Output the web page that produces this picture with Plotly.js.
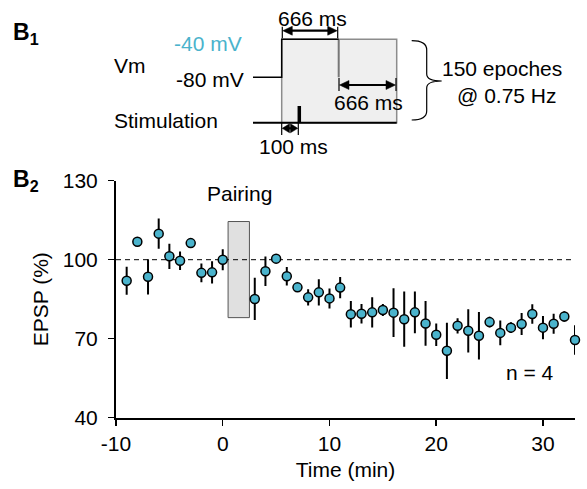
<!DOCTYPE html>
<html>
<head>
<meta charset="utf-8">
<script src="https://cdn.plot.ly/plotly-3.0.1.min.js"></script>
<style>html,body{margin:0;padding:0;background:#fff;}#chart{width:587px;height:489px;}</style>
</head>
<body>
<div id="chart"></div>
<script>
// ---- data ----
const timeMin = [-9,-8,-7,-6,-5,-4,-3,-2,-1,0,3,4,5,6,7,8,9,10,11,12,13,14,15,16,17,18,19,20,21,22,23,24,25,26,27,28,29,30,31,32,33];
const epspPct = [92.0,106.8,93.5,109.9,101.3,99.6,106.3,95.0,95.2,100.0,85.1,95.6,100.4,93.7,89.5,85.7,87.6,85.3,89.4,79.3,79.5,80.0,80.9,79.9,77.4,80.0,75.8,71.5,65.4,74.9,73.0,71.1,76.3,72.2,74.2,75.6,79.4,74.2,75.7,78.4,69.5];
const epspErr = [5.3,1.0,6.7,5.7,4.8,3.5,1.0,3.6,4.2,4.0,8.0,5.6,1.5,3.5,1.5,3.1,5.0,3.8,4.0,5.0,3.7,5.7,2.3,9.3,10.5,7.9,8.5,4.3,10.7,2.9,8.2,9.0,2.0,4.7,2.0,4.2,3.7,4.4,3.8,2.0,5.6];
const pairingWindow = [0.5, 2.5];
const pairingRange = [78, 114.5];
const baselineLevel = 100;
const xTicks = [-10, 0, 10, 20, 30];
const yTicks = [40, 70, 100, 130];

// ---- layout helpers (figure pixels -> paper) ----
const W = 587, H = 489;
const px = x => x / W;
const py = y => 1 - y / H;
const FONT = 'Arial, "Liberation Sans", Helvetica, sans-serif';
const FS = 21;

const trace = {
  x: timeMin, y: epspPct, type: 'scatter', mode: 'markers',
  cliponaxis: false,
  marker: {size: 9, color: '#4ab3cc', line: {color: '#000', width: 1.5}},
  error_y: {type: 'data', array: epspErr, visible: true, color: '#000', thickness: 2, width: 0},
  hoverinfo: 'x+y'
};

const shapes = [];
const annotations = [];

// Pairing box and baseline
shapes.push({type: 'rect', xref: 'x', yref: 'y', x0: pairingWindow[0], x1: pairingWindow[1], y0: pairingRange[0], y1: pairingRange[1],
  fillcolor: '#e0e0e0', line: {color: '#555', width: 1}, layer: 'below'});
shapes.push({type: 'line', xref: 'x', yref: 'y', x0: -10, x1: 33, y0: baselineLevel, y1: baselineLevel,
  line: {color: '#000', width: 1, dash: '5px,4px'}, layer: 'below'});

// ---- schematic (B1) ----
function line(x0, y0, x1, y1, color, width) {
  shapes.push({type: 'line', xref: 'paper', yref: 'paper', x0: px(x0), y0: py(y0), x1: px(x1), y1: py(y1), line: {color: color, width: width}});
}
function pathPx(cmds, color, width, fill) {
  const d = cmds.map(c => c[0] + ' ' + (c.length > 1 ? c.slice(1).map((v, i) => (i % 2 === 0 ? px(v) : py(v)).toFixed(5)).join(',') : '')).join(' ');
  shapes.push({type: 'path', xref: 'paper', yref: 'paper', path: d, line: {color: color, width: width}, fillcolor: fill || 'rgba(0,0,0,0)'});
}
// background box
shapes.push({type: 'rect', xref: 'paper', yref: 'paper', x0: px(281.7), x1: px(396.7), y0: py(122.7), y1: py(39.3),
  fillcolor: '#efefef', line: {color: '#8c8c8c', width: 1.5}});
line(338.7, 39.3, 338.7, 77.3, '#777', 2);
pathPx([['M', 253, 77.3], ['L', 281.7, 77.3], ['L', 281.7, 39.3], ['L', 338.7, 39.3]], '#000', 1.5);
line(253, 122.7, 396.7, 122.7, '#000', 2);
line(299.3, 106, 299.3, 122.7, '#000', 3.5);

function dblArrow(x0, x1, y, barTop, barBot) {
  const hl = Math.min(10, (x1 - x0) / 2 - 0.5), hw = 4.5;
  line(x0, barTop, x0, barBot, '#000', 1.2);
  line(x1, barTop, x1, barBot, '#000', 1.2);
  line(x0 + hl - 1, y, x1 - hl + 1, y, '#000', 2.2);
  pathPx([['M', x0 + 0.5, y], ['L', x0 + hl, y - hw], ['L', x0 + hl, y + hw], ['Z']], '#000', 0.5, '#000');
  pathPx([['M', x1 - 0.5, y], ['L', x1 - hl, y - hw], ['L', x1 - hl, y + hw], ['Z']], '#000', 0.5, '#000');
}
dblArrow(282.3, 337.7, 30.7, 26.7, 38.3);
dblArrow(339, 396, 85, 78, 91);
dblArrow(281.7, 298.3, 128.3, 123, 135);

// brace
pathPx([['M', 411.7, 40.7], ['Q', 426.7, 40.7, 426.7, 50], ['L', 426.7, 74], ['Q', 426.7, 81, 441.7, 81],
        ['Q', 426.7, 81, 426.7, 88], ['L', 426.7, 111], ['Q', 426.7, 120, 411.7, 120]], '#000', 1.2);

function txt(text, x, y, xanchor, opts) {
  annotations.push(Object.assign({xref: 'paper', yref: 'paper', x: px(x), y: py(y), text: text, showarrow: false,
    xanchor: xanchor, yanchor: 'middle', font: {family: FONT, size: FS, color: '#000'}}, opts || {}));
}
txt('<b>B</b><sub><b>1</b></sub>', 11, 33, 'left', {font: {family: FONT, size: 23, color: '#000'}});
txt('<b>B</b><sub><b>2</b></sub>', 11, 181, 'left', {font: {family: FONT, size: 23, color: '#000'}});
txt('-40 mV', 244, 43, 'right', {font: {family: FONT, size: FS, color: '#4ab3cc'}});
txt('Vm', 112, 65, 'left');
txt('-80 mV', 246, 80, 'right');
txt('Stimulation', 112, 120, 'left');
txt('666 ms', 312, 18, 'center');
txt('666 ms', 368, 103, 'center');
txt('100 ms', 293, 146, 'center');
txt('150 epoches', 440, 68, 'left');
txt('@ 0.75 Hz', 455, 95, 'left');

// chart text
annotations.push({xref: 'x', yref: 'y', x: 1.6, y: 125.3, text: 'Pairing', showarrow: false, xanchor: 'center', yanchor: 'middle',
  font: {family: FONT, size: FS, color: '#000'}});
annotations.push({xref: 'x', yref: 'y', x: 28.8, y: 57.3, text: 'n = 4', showarrow: false, xanchor: 'center', yanchor: 'middle',
  font: {family: FONT, size: FS, color: '#000'}});

const layout = {
  width: W, height: H,
  margin: {l: 0, r: 0, t: 0, b: 0},
  paper_bgcolor: '#fff', plot_bgcolor: 'rgba(0,0,0,0)',
  showlegend: false,
  font: {family: FONT, size: FS, color: '#000'},
  xaxis: {
    domain: [116 / W, 575 / W], range: [-10, 33], tickvals: xTicks, ticktext: xTicks.map(String),
    ticks: 'outside', ticklen: 6, tickwidth: 1.5, tickcolor: '#000',
    showline: true, linecolor: '#000', linewidth: 2, showgrid: false, zeroline: false,
    tickfont: {family: FONT, size: FS, color: '#000'},
    title: {text: 'Time (min)', font: {family: FONT, size: FS, color: '#000'}, standoff: 8},
    fixedrange: true
  },
  yaxis: {
    domain: [1 - 417.7 / H, 1 - 180.7 / H], range: [40, 130], tickvals: yTicks, ticktext: yTicks.map(String),
    ticks: 'outside', ticklen: 6, tickwidth: 1.5, tickcolor: '#000', ticklabelstandoff: 6,
    showline: true, linecolor: '#000', linewidth: 2, showgrid: false, zeroline: false,
    tickfont: {family: FONT, size: FS, color: '#000'},
    title: {text: 'EPSP (%)', font: {family: FONT, size: FS, color: '#000'}, standoff: 8},
    fixedrange: true
  },
  shapes: shapes,
  annotations: annotations
};

Plotly.newPlot('chart', [trace], layout, {displayModeBar: false, staticPlot: true});
</script>
</body>
</html>
